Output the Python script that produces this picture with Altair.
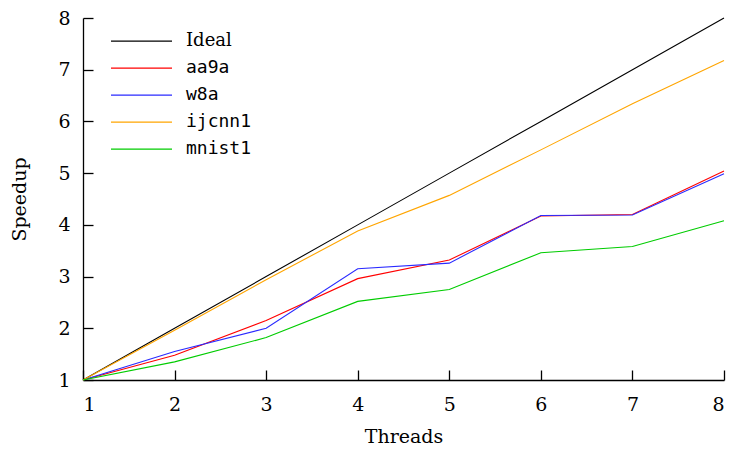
import altair as alt
import pandas as pd

threads = [1, 2, 3, 4, 5, 6, 7, 8]
series_names = ["Ideal", "aa9a", "w8a", "ijcnn1", "mnist1"]
series_colors = ["#000000", "#ff0000", "#2a2aff", "#ffa500", "#00cc00"]
ideal = [1, 2, 3, 4, 5, 6, 7, 8]
aa9a = [1, 1.48, 2.15, 2.96, 3.32, 4.17, 4.20, 5.04]
w8a = [1, 1.55, 2.00, 3.15, 3.26, 4.18, 4.19, 4.99]
ijcnn1 = [1, 1.96, 2.94, 3.88, 4.57, 5.45, 6.34, 7.18]
mnist1 = [1, 1.35, 1.82, 2.52, 2.75, 3.46, 3.58, 4.08]
tick_values = [1, 2, 3, 4, 5, 6, 7, 8]

values = [ideal, aa9a, w8a, ijcnn1, mnist1]
rows = []
for name, vals in zip(series_names, values):
    for t, v in zip(threads, vals):
        rows.append({"Threads": t, "Speedup": v, "Series": name})
df = pd.DataFrame(rows)

SERIF = "DejaVu Serif"
MONO = "DejaVu Sans Mono"

chart = alt.Chart(df).mark_line(strokeWidth=1.1).encode(
    x=alt.X("Threads:Q",
            scale=alt.Scale(domain=[1, 8], nice=False, zero=False),
            axis=alt.Axis(values=tick_values, title="Threads", grid=False,
                          tickSize=alt.ExprRef("-10"), labelPadding=25,
                          titleY=62, titleBaseline="alphabetic")),
    y=alt.Y("Speedup:Q",
            scale=alt.Scale(domain=[1, 8], nice=False, zero=False),
            axis=alt.Axis(values=tick_values, title="Speedup", grid=False,
                          tickSize=alt.ExprRef("-10"), labelPadding=23,
                          titleX=-58, titleBaseline="alphabetic")),
    color=alt.Color("Series:N",
                    scale=alt.Scale(domain=series_names, range=series_colors),
                    legend=alt.Legend(title=None, orient="none", legendX=27, legendY=10,
                                      symbolType="stroke", symbolSize=3721,
                                      symbolStrokeWidth=1.2, padding=0,
                                      rowPadding=0, clipHeight=26.3,
                                      symbolOffset=0, labelOffset=13,
                                      labelFontSize=18, labelColor="black",
                                      labelFont=alt.ExprRef(
                                          "datum.label == 'Ideal' ? 'DejaVu Serif' : 'DejaVu Sans Mono'"))),
    order=alt.Order("Threads:Q"),
).properties(
    width=641, height=362,
    autosize=alt.AutoSizeParams(type="none"),
    padding={"left": 75, "top": 10, "right": 6, "bottom": 67},
).configure_view(
    stroke=None
).configure_axis(
    domainColor="black", domainWidth=1.3, tickColor="black", tickWidth=1.3,
    labelFont=SERIF, labelFontSize=19, labelColor="black",
    titleFont=SERIF, titleFontSize=19, titleColor="black", titleFontWeight="normal",
)

chart.save("out.html", embed_options={"renderer": "svg", "actions": False})
